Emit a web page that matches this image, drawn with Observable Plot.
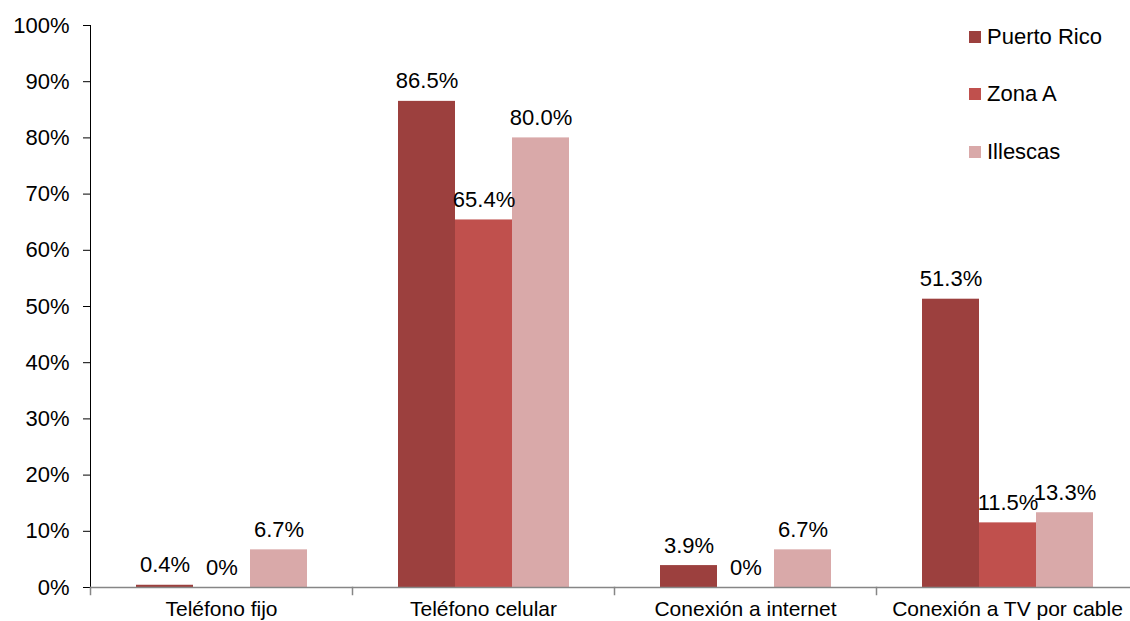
<!DOCTYPE html>
<html>
<head>
<meta charset="utf-8">
<script src="https://cdn.jsdelivr.net/npm/d3@7"></script>
<script src="https://cdn.jsdelivr.net/npm/@observablehq/plot@0.6"></script>
<style>
  html, body { margin: 0; padding: 0; background: #fff; overflow: hidden; }
  #wrap { position: relative; width: 1130px; height: 621px; font-family: "Liberation Sans", Arial, sans-serif; }
  #wrap svg { overflow: hidden; }
  #wrap svg g[aria-label="y-axis tick"], #wrap svg g[aria-label="frame"] { stroke: #868686; }
  #legend { position: absolute; left: 969px; top: 8px; }
  .item { display: flex; align-items: center; height: 57.5px; font-size: 22px; color: #000; }
  .sw { width: 12px; height: 12px; margin-right: 6px; }
</style>
</head>
<body>
<div id="wrap"></div>
<script>
const categories = ["Teléfono fijo", "Teléfono celular", "Conexión a internet", "Conexión a TV por cable"];
const series = ["Puerto Rico", "Zona A", "Illescas"];
const puertoRico = [0.4, 86.5, 3.9, 51.3];
const zonaA = [0, 65.4, 0, 11.5];
const illescas = [6.7, 80.0, 6.7, 13.3];
const colors = ["#9c403e", "#c0504d", "#d9a9a9"];
const yTicks = [0, 10, 20, 30, 40, 50, 60, 70, 80, 90, 100];

const seriesValues = [puertoRico, zonaA, illescas];
const data = [];
categories.forEach((c, i) => {
  series.forEach((s, j) => {
    data.push({cat: c, ser: s, val: seriesValues[j][i]});
  });
});
const fmt = v => v === 0 ? "0%" : v.toFixed(1) + "%";
const gray = "#868686";
const H = 621, mTop = 25, mBottom = 34;

const chart = Plot.plot({
  width: 1130,
  height: H,
  marginLeft: 90,
  marginRight: -8,
  marginTop: mTop,
  marginBottom: mBottom,
  style: {fontFamily: "'Liberation Sans', Arial, sans-serif", fontSize: "22px", color: "#000", background: "#fff"},
  fx: {domain: categories, padding: 0, label: null, axis: null},
  x: {domain: series, paddingInner: 0, paddingOuter: 0.759, axis: null},
  y: {domain: [0, 100], label: null, ticks: yTicks, tickFormat: d => d + "%", tickSize: 7, tickPadding: 14, line: true},
  color: {domain: series, range: colors},
  marks: [
    Plot.barY(data, {fx: "cat", x: "ser", y: "val", fill: "ser"}),
    Plot.text(data, {fx: "cat", x: "ser", y: "val", text: d => fmt(d.val), dy: -20, fontSize: 22, fill: "#000"}),
    Plot.ruleY([0], {stroke: gray, strokeWidth: 1.5}),
    Plot.frame({anchor: "left", stroke: gray, strokeWidth: 1.5, strokeOpacity: 1, insetTop: H - mTop - mBottom, insetBottom: -7}),
    Plot.axisFx({anchor: "bottom", tickSize: 0, tickPadding: 14, fontSize: 21, fill: "#000", label: null})
  ]
});
document.getElementById("wrap").appendChild(chart);

const legend = document.createElement("div");
legend.id = "legend";
series.forEach((s, j) => {
  const it = document.createElement("div");
  it.className = "item";
  const sw = document.createElement("div");
  sw.className = "sw";
  sw.style.background = colors[j];
  const t = document.createElement("span");
  t.textContent = s;
  it.appendChild(sw);
  it.appendChild(t);
  legend.appendChild(it);
});
document.getElementById("wrap").appendChild(legend);
</script>
</body>
</html>
